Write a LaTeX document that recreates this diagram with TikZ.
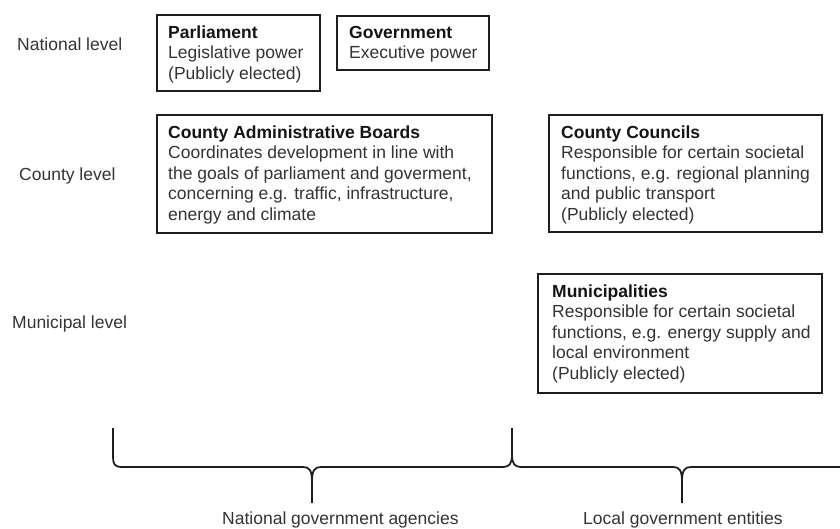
\documentclass[tikz,border=0pt]{standalone}
\usepackage{fontspec}
\setmainfont{Liberation Sans}
\definecolor{ink}{HTML}{333333}
\definecolor{titleink}{HTML}{141414}
\definecolor{frame}{HTML}{1E1E1E}
\tikzset{
  box/.style={draw=frame, line width=1.9pt, rectangle, inner sep=0pt, outer sep=0pt, anchor=north west},
  txt/.style={anchor=north west, inner sep=0pt, align=left, text=ink, font=\fontsize{17.5}{20.5}\selectfont},
  lvl/.style={anchor=base west, inner sep=0pt, text=ink, font=\fontsize{17.5}{20.5}\selectfont},
  brace/.style={draw=frame, line width=1.8pt, line join=round},
}
\newcommand{\boxhead}[1]{\rule{0pt}{23pt}\textcolor{titleink}{\textbf{#1}}}
\begin{document}
\begin{tikzpicture}[x=1pt,y=1pt]
\useasboundingbox (0,0) rectangle (840,-529);
% level labels
\node[lvl] (natl) at (17,-50.5) {National level};
\node[lvl] (cntl) at (19,-180.5) {County level};
\node[lvl] (munl) at (12,-328.5) {Municipal level};
% boxes
\node[box, minimum width=163pt, minimum height=76pt] (parl) at (157,-15) {};
\node[txt] (parlt) at ([xshift=11pt]parl.north west) {\boxhead{Parliament}\\Legislative power\\(Publicly elected)};
\node[box, minimum width=152pt, minimum height=54pt] (gov) at (337,-16) {};
\node[txt] (govt) at ([xshift=12pt,yshift=1pt]gov.north west) {\boxhead{Government}\\Executive power};
\node[box, minimum width=335pt, minimum height=118pt] (cab) at (157,-115) {};
\node[txt] (cabt) at ([xshift=11pt]cab.north west) {\boxhead{County Administrative Boards}\\Coordinates development in line with\\the goals of parliament and goverment,\\concerning e.g. traffic, infrastructure,\\energy and climate};
\node[box, minimum width=273pt, minimum height=117pt] (cc) at (549,-115) {};
\node[txt] (cct) at ([xshift=12pt]cc.north west) {\boxhead{County Councils}\\Responsible for certain societal\\functions, e.g. regional planning\\and public transport\\(Publicly elected)};
\node[box, minimum width=284pt, minimum height=119pt] (mun) at (538,-274) {};
\node[txt] (munt) at ([xshift=14pt]mun.north west) {\boxhead{Municipalities}\\Responsible for certain societal\\functions, e.g. energy supply and\\local environment\\(Publicly elected)};
% braces
\coordinate (b1) at (113,-428);
\coordinate (t1) at (312,-503);
\coordinate (b2) at (512,-428);
\coordinate (t2) at (682,-503);
\coordinate (b3) at (850,-467);
\draw[brace] (b1) -- (113,-457) .. controls (113,-464) and (115,-467) .. (121,-467)
  -- (303,-467) .. controls (309,-467) and (312,-470) .. (312,-481) -- (t1);
\draw[brace] (312,-481) .. controls (312,-470) and (315,-467) .. (321,-467)
  -- (503,-467) .. controls (509,-467) and (512,-464) .. (512,-455) -- (b2);
\draw[brace] (512,-455) .. controls (512,-464) and (515,-467) .. (521,-467)
  -- (673,-467) .. controls (679,-467) and (682,-470) .. (682,-481) -- (t2);
\draw[brace] (682,-481) .. controls (682,-470) and (685,-467) .. (691,-467) -- (b3);
% bottom labels
\node[lvl] (nga) at (222,-524.5) {National government agencies};
\node[lvl] (lge) at (583,-524.5) {Local government entities};
\end{tikzpicture}
\end{document}
